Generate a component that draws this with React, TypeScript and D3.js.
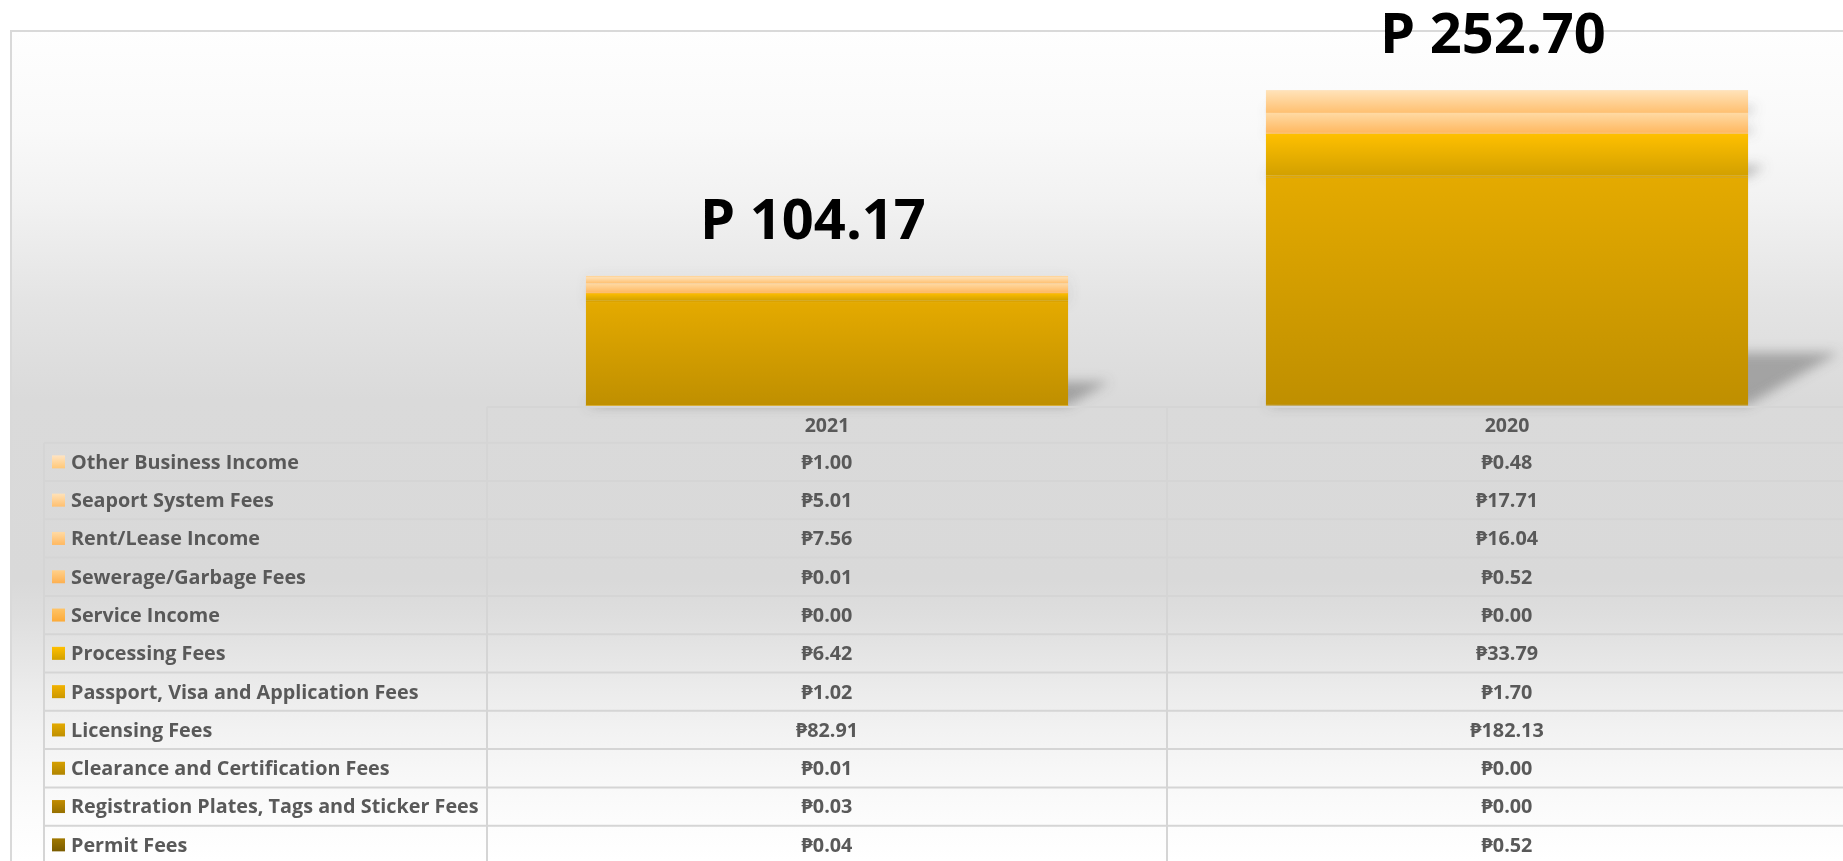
import React from "react";
import * as d3 from "d3";

// ---- data ----
const years = ["2021", "2020"];
const seriesNames = [
  "Other Business Income",
  "Seaport System Fees",
  "Rent/Lease Income",
  "Sewerage/Garbage Fees",
  "Service Income",
  "Processing Fees",
  "Passport, Visa and Application Fees",
  "Licensing Fees",
  "Clearance and Certification Fees",
  "Registration Plates, Tags and Sticker Fees",
  "Permit Fees",
];
const values2021 = [1.0, 5.01, 7.56, 0.01, 0.0, 6.42, 1.02, 82.91, 0.01, 0.03, 0.04];
const values2020 = [0.48, 17.71, 16.04, 0.52, 0.0, 33.79, 1.7, 182.13, 0.0, 0.0, 0.52];
const totals = [104.17, 252.7];
const totalLabels = ["P 104.17", "P 252.70"];
const axisMax = 300;

// ---- styles ----
const colorTop = ["#ffe4c2", "#ffe2b8", "#ffdaa4", "#ffd08a", "#ffc466", "#ffc000", "#f2b200", "#e4aa00", "#d6a000", "#c28c00", "#a07800"];
const colorBottom = ["#ffc878", "#ffc070", "#ffb860", "#fdb050", "#fcaa38", "#d2a000", "#cc9800", "#bf8f00", "#b08400", "#967000", "#7a5c00"];
const FONT = "'Open Sans', 'Noto Sans', 'DejaVu Sans', sans-serif";
const W = 1843;
const H = 861;

export default function App() {
  const frameX = 11;
  const frameY = 31;
  const baseY = 405.5;
  const tableTop = 406;
  const rowTop = 442.7;
  const rowH = 38.3;

  const x = d3.scaleBand<string>().domain(years).range([487, 1847]).padding(0);
  const barW = x.bandwidth() * 0.709;
  const y = d3.scaleLinear().domain([0, axisMax]).range([baseY, frameY + 0.5]);
  const rows = d3
    .scaleBand<string>()
    .domain(seriesNames)
    .range([rowTop, rowTop + rowH * seriesNames.length]);

  const tableData = years.map((yr, i) => {
    const vals = i === 0 ? values2021 : values2020;
    const o: any = { year: yr };
    seriesNames.forEach((n, j) => (o[n] = vals[j]));
    return o;
  });
  const stackKeys = seriesNames.slice().reverse();
  const stacked = d3.stack<any>().keys(stackKeys)(tableData);
  const fmt = d3.format(".2f");

  const bgStops: [number, string][] = [
    [31, "#fefefe"],
    [130, "#f9f9f9"],
    [200, "#f2f2f2"],
    [300, "#e4e4e4"],
    [400, "#dadada"],
    [580, "#d9d9d9"],
    [616, "#dedede"],
    [654, "#e5e5e5"],
    [692, "#ececec"],
    [731, "#f2f2f2"],
    [769, "#f7f7f7"],
    [808, "#fbfbfb"],
    [861, "#ffffff"],
  ];

  const segments: any[] = [];
  stacked.forEach((layer) => {
    const si = seriesNames.indexOf(layer.key);
    layer.forEach((d: any, yi: number) => {
      const x0 = (x(years[yi]) as number) + (x.bandwidth() - barW) / 2;
      const y0 = y(d[0]);
      const y1 = y(d[1]);
      segments.push({ key: layer.key + "-" + yi, si, x0, x1: x0 + barW, y0, y1, h: y0 - y1 });
    });
  });

  return (
    <svg
      width={W}
      height={H}
      style={{ position: "absolute", left: 0, top: 0, display: "block", background: "#ffffff" }}
    >
      <defs>
        <linearGradient id="bg" gradientUnits="userSpaceOnUse" x1={0} y1={frameY} x2={0} y2={H}>
          {bgStops.map(([py, c], i) => (
            <stop key={i} offset={(py - frameY) / (H - frameY)} stopColor={c} />
          ))}
        </linearGradient>
        {seriesNames.map((n, i) => (
          <linearGradient key={i} id={"g" + i} x1={0} y1={0} x2={0} y2={1}>
            <stop offset={0} stopColor={colorTop[i]} />
            <stop offset={1} stopColor={colorBottom[i]} />
          </linearGradient>
        ))}
        <filter id="blur" x="-50%" y="-50%" width="200%" height="200%">
          <feGaussianBlur stdDeviation={6} />
        </filter>
      </defs>

      {/* frame */}
      <rect x={frameX} y={frameY} width={W} height={H} fill="url(#bg)" stroke="#d9d9d9" strokeWidth={2} />

      {/* shadows */}
      <g filter="url(#blur)">
        {segments
          .filter((s) => s.h > 0.5)
          .map((s) => {
            const sh = s.h * 0.23;
            const off = s.h * 0.4;
            const pts = [
              [s.x0, s.y0],
              [s.x1, s.y0],
              [s.x1 + off, s.y0 - sh],
              [s.x0 + off, s.y0 - sh],
            ];
            return <polygon key={"s" + s.key} points={pts.map((p) => p.join(",")).join(" ")} fill="#6a6a6a" opacity={0.5} />;
          })}
      </g>

      {/* bars */}
      <g>
        {segments
          .filter((s) => s.h > 0)
          .map((s) => (
            <rect
              key={s.key}
              x={s.x0}
              y={s.y1}
              width={s.x1 - s.x0}
              height={Math.max(s.h, 0.6)}
              fill={"url(#g" + s.si + ")"}
            />
          ))}
        {years.map((yr) => {
          const x0 = (x(yr) as number) + (x.bandwidth() - barW) / 2;
          return <line key={"bl" + yr} x1={x0} x2={x0 + barW} y1={baseY + 0.5} y2={baseY + 0.5} stroke="#ecca6a" strokeWidth={1.2} />;
        })}
      </g>

      {/* total labels */}
      {years.map((yr, i) => (
        <text
          key={"t" + yr}
          x={(x(yr) as number) + x.bandwidth() / 2 - 14}
          y={y(totals[i]) - 37}
          textAnchor="middle"
          fontFamily={FONT}
          fontWeight={700}
          fontSize={56}
          fill="#000000"
        >
          {totalLabels[i]}
        </text>
      ))}

      {/* data table grid */}
      <g stroke="#d5d5d5" strokeWidth={2}>
        <line x1={487} x2={W} y1={tableTop + 1} y2={tableTop + 1} />
        {d3.range(seriesNames.length).map((i) => (
          <line key={"h" + i} x1={44} x2={W} y1={(rows(seriesNames[i]) as number)} y2={(rows(seriesNames[i]) as number)} />
        ))}
        <line x1={44} x2={44} y1={rowTop} y2={H} />
        {years.map((yr) => (
          <line key={"v" + yr} x1={x(yr) as number} x2={x(yr) as number} y1={tableTop + 1} y2={H} />
        ))}
      </g>

      {/* header */}
      {years.map((yr) => (
        <text
          key={"hd" + yr}
          x={(x(yr) as number) + x.bandwidth() / 2}
          y={(tableTop + rowTop) / 2 + 1}
          dy="0.35em"
          textAnchor="middle"
          fontFamily={FONT}
          fontWeight={700}
          fontSize={19.5}
          fill="#595959"
        >
          {yr}
        </text>
      ))}

      {/* rows */}
      {seriesNames.map((n, i) => {
        const cy = (rows(n) as number) + rows.bandwidth() / 2;
        return (
          <g key={"r" + i}>
            <rect x={52} y={cy - 6.5} width={13} height={13} fill={"url(#g" + i + ")"} />
            <text x={71} y={cy} dy="0.35em" fontFamily={FONT} fontWeight={700} fontSize={19.8} fill="#595959">
              {n}
            </text>
            {years.map((yr, yi) => (
              <text
                key={yr}
                x={(x(yr) as number) + x.bandwidth() / 2}
                y={cy}
                dy="0.35em"
                textAnchor="middle"
                fontFamily={FONT}
                fontWeight={700}
                fontSize={19.8}
                fill="#595959"
              >
                {"\u20B1" + fmt((yi === 0 ? values2021 : values2020)[i])}
              </text>
            ))}
          </g>
        );
      })}
    </svg>
  );
}
